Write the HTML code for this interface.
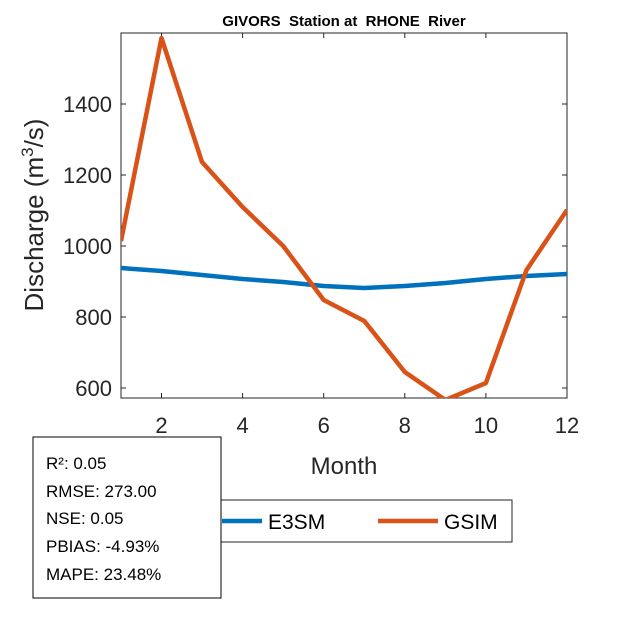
<!DOCTYPE html>
<html><head><style>body{margin:0;background:#fff}svg{display:block}text{font-family:"Liberation Sans",Arial,sans-serif}</style></head>
<body>
<svg width="625" height="625" viewBox="0 0 625 625">
<rect width="625" height="625" fill="#fff"/>
<defs><clipPath id="c"><rect x="121" y="33" width="446" height="365"/></clipPath></defs>
<rect x="121" y="33" width="446" height="365" fill="#fff" stroke="#262626" stroke-width="1"/>
<g stroke="#262626" stroke-width="1">
<line x1="161.5" y1="398" x2="161.5" y2="393"/><line x1="242.6" y1="398" x2="242.6" y2="393"/><line x1="323.7" y1="398" x2="323.7" y2="393"/><line x1="404.8" y1="398" x2="404.8" y2="393"/><line x1="485.9" y1="398" x2="485.9" y2="393"/>
<line x1="161.5" y1="33" x2="161.5" y2="38"/><line x1="242.6" y1="33" x2="242.6" y2="38"/><line x1="323.7" y1="33" x2="323.7" y2="38"/><line x1="404.8" y1="33" x2="404.8" y2="38"/><line x1="485.9" y1="33" x2="485.9" y2="38"/>
<line x1="121" y1="104" x2="126" y2="104"/><line x1="121" y1="175" x2="126" y2="175"/><line x1="121" y1="246" x2="126" y2="246"/><line x1="121" y1="317" x2="126" y2="317"/><line x1="121" y1="388" x2="126" y2="388"/>
<line x1="567" y1="104" x2="562" y2="104"/><line x1="567" y1="175" x2="562" y2="175"/><line x1="567" y1="246" x2="562" y2="246"/><line x1="567" y1="317" x2="562" y2="317"/><line x1="567" y1="388" x2="562" y2="388"/>
</g>
<g font-size="22" fill="#262626" text-anchor="middle">
<text x="161.5" y="433">2</text><text x="242.6" y="433">4</text><text x="323.7" y="433">6</text><text x="404.8" y="433">8</text><text x="485.9" y="433">10</text><text x="567" y="433">12</text>
</g>
<g font-size="22" fill="#262626" text-anchor="end">
<text x="112" y="112">1400</text><text x="112" y="183">1200</text><text x="112" y="254">1000</text><text x="112" y="325">800</text><text x="112" y="396">600</text>
</g>
<text x="344" y="474" font-size="24" fill="#262626" text-anchor="middle">Month</text>
<text transform="translate(43,215) rotate(-90)" font-size="26" fill="#262626" text-anchor="middle">Discharge (m<tspan dy="-10" font-size="17">3</tspan><tspan dy="10">/s)</tspan></text>
<text x="344" y="26" font-size="15" font-weight="bold" fill="#000" text-anchor="middle" style="white-space:pre" xml:space="preserve">GIVORS  Station at  RHONE  River</text>
<g clip-path="url(#c)" fill="none" stroke-width="4.5" stroke-linejoin="round">
<polyline stroke="#0072BD" points="121,268 161.5,271 202,275 242.6,279 283.2,282 323.7,286 364.3,288 404.8,286 445.4,283 485.9,279 526.5,276 567,274"/>
<polyline stroke="#D95319" points="121,241 161.5,38 202,162 242.6,207 283.2,246 323.7,300 364.3,321 404.8,372 445.4,400 485.9,383 526.5,270 567,210"/>
</g>
<rect x="212" y="500" width="300" height="42" fill="#fff" stroke="#262626"/>
<line x1="222" y1="521" x2="262" y2="521" stroke="#0072BD" stroke-width="4.5"/>
<text x="268" y="529" font-size="21" fill="#000">E3SM</text>
<line x1="378" y1="521" x2="438" y2="521" stroke="#D95319" stroke-width="4.5"/>
<text x="444" y="529" font-size="21" fill="#000">GSIM</text>
<rect x="33" y="437" width="188" height="161" fill="#fff" stroke="#000"/>
<g font-size="17" fill="#000">
<text x="46" y="469">R²: 0.05</text><text x="46" y="497">RMSE: 273.00</text><text x="46" y="524">NSE: 0.05</text><text x="46" y="552">PBIAS: -4.93%</text><text x="46" y="580">MAPE: 23.48%</text>
</g>
</svg>
</body></html>
